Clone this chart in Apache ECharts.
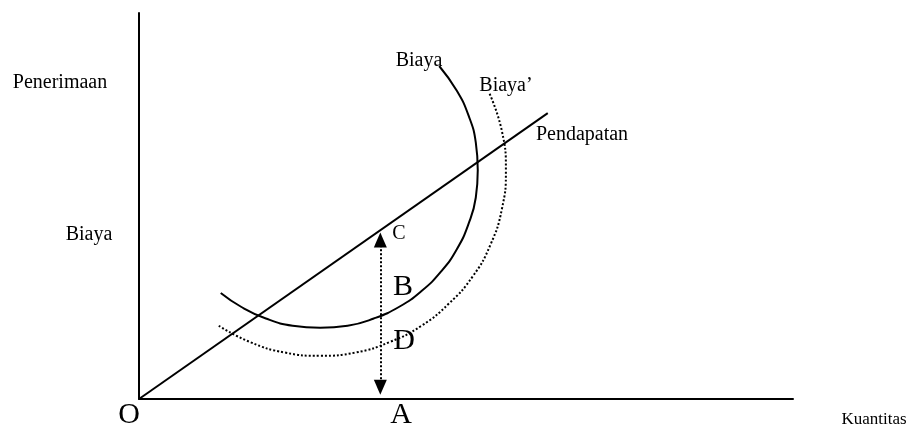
<!DOCTYPE html>
<html lang="id">
<head>
    <meta charset="UTF-8">
    <title>Biaya dan Pendapatan</title>
    <style>
        html, body { margin: 0; padding: 0; background: #fff; }
        #main { width: 907px; height: 426px; }
    </style>
</head>
<body>
<div id="main"></div>
<script src="https://cdn.jsdelivr.net/npm/echarts@6/dist/echarts.min.js"></script>
<script>
// Pendapatan (garis lurus dari titik O)
const revenue = [[0, 0], [62.5, 43.7]];

// Biaya (kurva utuh), titik
const cost = [
    [12.5, 16.2], [15.6, 14.1], [19.4, 12.3], [23.5, 11.2], [27.7, 10.9],
    [31.9, 11.2], [35.9, 12.3], [39.8, 14.1], [43.2, 16.5], [46.2, 19.5],
    [48.6, 22.9], [50.4, 26.8], [51.5, 30.8], [51.8, 35.0], [51.5, 39.2],
    [50.4, 43.3], [48.6, 47.1], [45.9, 50.9]
];

// Biaya' (kurva titik-titik)
const costShifted = [
    [12.2, 11.2], [17.0, 8.7], [22.3, 7.1], [27.7, 6.6], [33.1, 7.1],
    [38.3, 8.7], [43.2, 11.2], [47.4, 14.6], [51.0, 18.7], [53.7, 23.5],
    [55.5, 29.1], [56.1, 35.0], [55.5, 40.9], [53.5, 46.9]
];

// panah A -> C
const qtyA = 36.9;
const arrowEnds = [1.8, 24.3];

const chart = echarts.init(document.getElementById('main'));

const serif = '"Liberation Serif", "DejaVu Serif", serif';
function txt(text, x, y, size) {
    return {
        type: 'text', x: x, y: y, silent: true,
        style: { text: text, fill: '#000', font: size + 'px ' + serif, align: 'center', verticalAlign: 'middle' }
    };
}

const option = {
    animation: false,
    grid: { left: 139, right: 114, top: 13, bottom: 27 },
    xAxis: {
        type: 'value', min: 0, max: 100,
        axisLine: { show: true, onZero: false, lineStyle: { color: '#000', width: 2 } },
        axisTick: { show: false }, axisLabel: { show: false }, splitLine: { show: false }
    },
    yAxis: {
        type: 'value', min: 0, max: 59,
        axisLine: { show: true, onZero: false, lineStyle: { color: '#000', width: 2 } },
        axisTick: { show: false }, axisLabel: { show: false }, splitLine: { show: false }
    },
    series: [
        {
            name: 'Pendapatan', type: 'line', data: revenue, showSymbol: false,
            lineStyle: { color: '#000', width: 2 },
            markLine: {
                silent: true,
                symbol: ['triangle', 'triangle'],
                symbolSize: [13, 15],
                label: { show: false },
                lineStyle: { color: '#000', width: 2, type: [2, 2] },
                data: [[{ coord: [qtyA, arrowEnds[0]] }, { coord: [qtyA, arrowEnds[1]] }]]
            }
        },
        {
            name: 'Biaya', type: 'line', data: cost, smooth: true, showSymbol: false,
            lineStyle: { color: '#000', width: 2 }
        },
        {
            name: "Biaya'", type: 'line', data: costShifted, smooth: true, showSymbol: false,
            lineStyle: { color: '#000', width: 2, type: [2, 2] }
        }
    ],
    graphic: [
        txt('Penerimaan', 60, 83, 20),
        txt('Biaya', 89, 235, 20),
        txt('Kuantitas', 874, 420, 17),
        txt('O', 129, 415, 30),
        txt('A', 401, 415, 30),
        txt('Biaya', 419, 61, 20),
        txt('Biaya\u2019', 506, 86, 20),
        txt('Pendapatan', 582, 135, 20),
        txt('C', 399, 234, 20),
        txt('B', 403, 287, 30),
        txt('D', 404, 341, 30)
    ]
};

chart.setOption(option);
</script>
</body>
</html>
